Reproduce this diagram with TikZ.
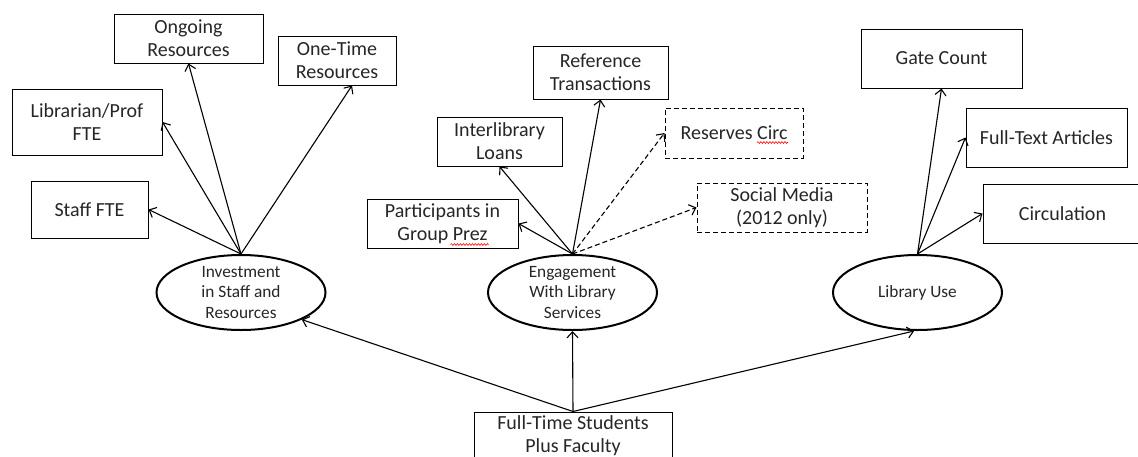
\documentclass[tikz,border=0pt]{standalone}
\usepackage{fontspec}
\setmainfont{Carlito}
\usetikzlibrary{arrows.meta,calc,shapes.geometric,decorations.pathmorphing}

\tikzset{
  boxtxt/.style={font=\fontsize{20}{23}\selectfont, text=black!85, align=center},
  metric/.style={boxtxt, draw, line width=1pt, rectangle, inner sep=0pt},
  optmetric/.style={metric, dashed, dash pattern=on 5pt off 3pt},
  factor/.style={draw, line width=2pt, ellipse, inner sep=0pt,
    minimum width=169pt, minimum height=75pt,
    font=\fontsize{17.3}{20.5}\selectfont, text=black!85, align=center},
  link/.style={line width=1.1pt, -{Straight Barb[length=6pt,width=11pt,line width=1.1pt]}},
  optlink/.style={link, dashed, dash pattern=on 5pt off 3pt},
  spell/.style={red, line width=0.6pt,
    decorate, decoration={snake, amplitude=0.9pt, segment length=3pt}}
}

\begin{document}
\begin{tikzpicture}[x=1pt,y=-1pt]
  \clip (0,0) rectangle (1138,456);
  \useasboundingbox (0,0) rectangle (1138,456);

  % three central factors
  \node[factor] (inv) at (241,292.5) {Investment\\in Staff and\\Resources};
  \node[factor] (eng) at (572.5,292.5) {Engagement\\With Library\\Services};
  \node[factor] (use) at (917.5,292.5) {Library Use};

  % normalising population
  \node[metric, minimum width=198pt, minimum height=47pt] (fte) at (573,435.5)
    {Full-Time Students\\Plus Faculty};

  % investment metrics
  \node[metric, minimum width=149pt, minimum height=49pt] (ongoing) at (188.5,38.5) {Ongoing\\Resources};
  \node[metric, minimum width=118pt, minimum height=49pt] (onetime) at (337,60.5) {One-Time\\Resources};
  \node[metric, minimum width=150pt, minimum height=66pt] (libprof) at (87,122) {Librarian/Prof\\FTE};
  \node[metric, minimum width=117pt, minimum height=57pt] (staff) at (89.5,209.5) {Staff FTE};

  % engagement metrics
  \node[metric, minimum width=135pt, minimum height=53pt] (reftx) at (600.5,72.5) {Reference\\Transactions};
  \node[metric, minimum width=125pt, minimum height=49pt] (ill) at (499.5,141.5) {Interlibrary\\Loans};
  \node[metric, minimum width=151pt, minimum height=49pt] (prez) at (442.5,223.5) {Participants in\\Group Prez};
  \node[optmetric, minimum width=138pt, minimum height=50pt] (reserves) at (734,133) {Reserves Circ};
  \node[optmetric, minimum width=170pt, minimum height=49pt] (social) at (782,207.5) {Social Media\\(2012 only)};

  % usage metrics
  \node[metric, minimum width=161pt, minimum height=59pt] (gate) at (941.5,58.5) {Gate Count};
  \node[metric, minimum width=161pt, minimum height=59pt] (fulltext) at (1046.5,137.5) {Full-Text Articles};
  \node[metric, minimum width=159pt, minimum height=59pt] (circ) at (1062.5,213.5) {Circulation};

  % spelling marks under flagged words
  \draw[spell] ($(prez.center)+(8,21)$) -- ($(prez.center)+(46,21)$);
  \draw[spell] ($(reserves.center)+(23,9.5)$) -- ($(reserves.center)+(54,9.5)$);

  % connectors from the population box
  \draw[link] (fte.north) -- (inv.336);
  \draw[link] (fte.north) -- (eng.south);
  \draw[link] (fte.north) -- (use.265);

  % investment connectors
  \draw[link] (inv.north) -- (staff.east);
  \draw[link] (inv.north) -- (libprof.east);
  \draw[link] (inv.north) -- (ongoing.south);
  \draw[link] (inv.north) -- ($(onetime.south)+(15,0)$);

  % engagement connectors
  \draw[link] (eng.north) -- (prez.east);
  \draw[link] (eng.north) -- (ill.south);
  \draw[link] (eng.north) -- (reftx.south);
  \draw[optlink] (eng.north) -- (reserves.west);
  \draw[optlink] (eng.north) -- (social.west);

  % usage connectors
  \draw[link] (use.north) -- (gate.south);
  \draw[link] (use.north) -- (fulltext.west);
  \draw[link] (use.north) -- (circ.west);
\end{tikzpicture}
\end{document}
